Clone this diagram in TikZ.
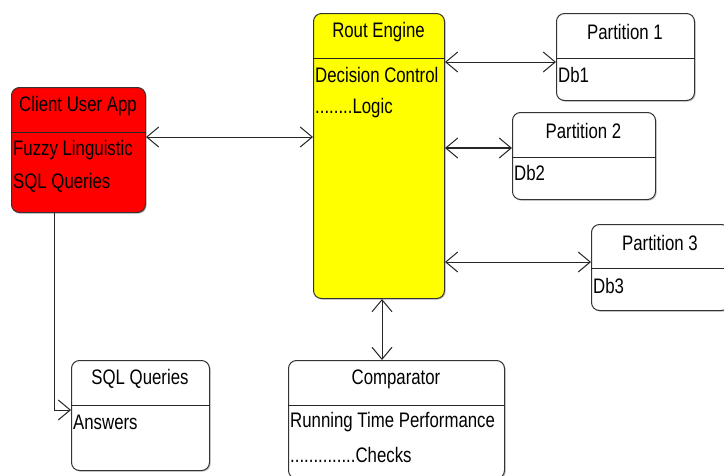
\documentclass[tikz,border=0pt]{standalone}
\usepackage{fontspec}
\setmainfont{Liberation Sans}[FakeStretch=0.8]
\usetikzlibrary{arrows.meta,shadows}
\definecolor{ylw}{RGB}{255,255,0}
\definecolor{rd}{RGB}{255,0,0}
\tikzset{
  umlbox/.style={draw=black!80, line width=1pt, rounded corners=8pt, anchor=north west,
    inner sep=0pt, fill=white, drop shadow={shadow xshift=1.2pt, shadow yshift=-1.2pt, fill=black!45}},
  divider/.style={draw=black!85, line width=1pt},
  ttl/.style={inner sep=0pt, font=\fontsize{21}{24}\selectfont},
  bodytxt/.style={inner sep=0pt, anchor=west, font=\fontsize{21}{24}\selectfont},
  tip/.tip={Straight Barb[length=12pt,width=20pt,line width=1pt]},
  conn/.style={draw=black!85, line width=1pt},
}
\begin{document}
\begin{tikzpicture}[x=1pt,y=-1pt]
\useasboundingbox (0,0) rectangle (724,475);
% boxes
\node[umlbox, fill=rd, minimum width=134pt, minimum height=125pt] (client) at (11,87) {};
\node[umlbox, fill=ylw, minimum width=131pt, minimum height=285pt] (rout) at (313,13) {};
\node[umlbox, minimum width=138pt, minimum height=87pt] (p1) at (556,13) {};
\node[umlbox, minimum width=143pt, minimum height=87pt] (p2) at (512,112) {};
\node[umlbox, minimum width=138pt, minimum height=86pt] (p3) at (591,224) {};
\node[umlbox, minimum width=138pt, minimum height=110pt] (sql) at (71,360) {};
\node[umlbox, minimum width=216pt, minimum height=118pt] (comp) at (288,360) {};
% dividers
\draw[divider] ([yshift=-45pt]client.north west) -- ([yshift=-45pt]client.north east);
\draw[divider] ([yshift=-45pt]rout.north west) -- ([yshift=-45pt]rout.north east);
\draw[divider] ([yshift=-45pt]p1.north west) -- ([yshift=-45pt]p1.north east);
\draw[divider] ([yshift=-45pt]p2.north west) -- ([yshift=-45pt]p2.north east);
\draw[divider] ([yshift=-44pt]p3.north west) -- ([yshift=-44pt]p3.north east);
\draw[divider] ([yshift=-45pt]sql.north west) -- ([yshift=-45pt]sql.north east);
\draw[divider] ([yshift=-45pt]comp.north west) -- ([yshift=-45pt]comp.north east);
% titles
\node[ttl] (clientT) at (78,106) {Client User App};
\node[ttl] (routT) at (378.5,32) {Rout Engine};
\node[ttl] (p1T) at (625,32) {Partition 1};
\node[ttl] (p2T) at (583.5,131) {Partition 2};
\node[ttl] (p3T) at (660,243) {Partition 3};
\node[ttl] (sqlT) at (140,379) {SQL Queries};
\node[ttl] (compT) at (396,379) {Comparator};
% bodies
\node[bodytxt] (clientB1) at (13,150) {Fuzzy Linguistic};
\node[bodytxt] (clientB2) at (13,183) {SQL Queries};
\node[bodytxt] (routB1) at (315,75) {Decision Control};
\node[bodytxt] (routB2) at (315,108) {........Logic};
\node[bodytxt] (p1B) at (558,75) {Db1};
\node[bodytxt] (p2B) at (514,173) {Db2};
\node[bodytxt] (p3B) at (593,286) {Db3};
\node[bodytxt] (sqlB) at (73,422) {Answers};
\node[bodytxt] (compB1) at (290,422) {Running Time Performance};
\node[bodytxt] (compB2) at (290,455) {..............Checks};
% connector rows
\coordinate (r1) at (0,137);
\coordinate (r2) at (0,62);
\coordinate (r3) at (0,148);
\coordinate (r4) at (0,262);
\coordinate (r5) at (0,410);
\coordinate (cx) at (382,0);
\coordinate (sx) at (54,0);
\draw[conn, tip-tip] (client.east |- r1) -- (rout.west |- r1);
\draw[conn, tip-tip] (rout.east |- r2) -- (p1.west |- r2);
\draw[conn, tip-tip, line width=2pt] (rout.east |- r3) -- (p2.west |- r3);
\draw[conn, tip-tip] (rout.east |- r4) -- (p3.west |- r4);
\draw[conn, tip-tip] (rout.south -| cx) -- (comp.north -| cx);
\draw[conn, -tip] (client.south -| sx) |- (sql.west |- r5);
\end{tikzpicture}
\end{document}
